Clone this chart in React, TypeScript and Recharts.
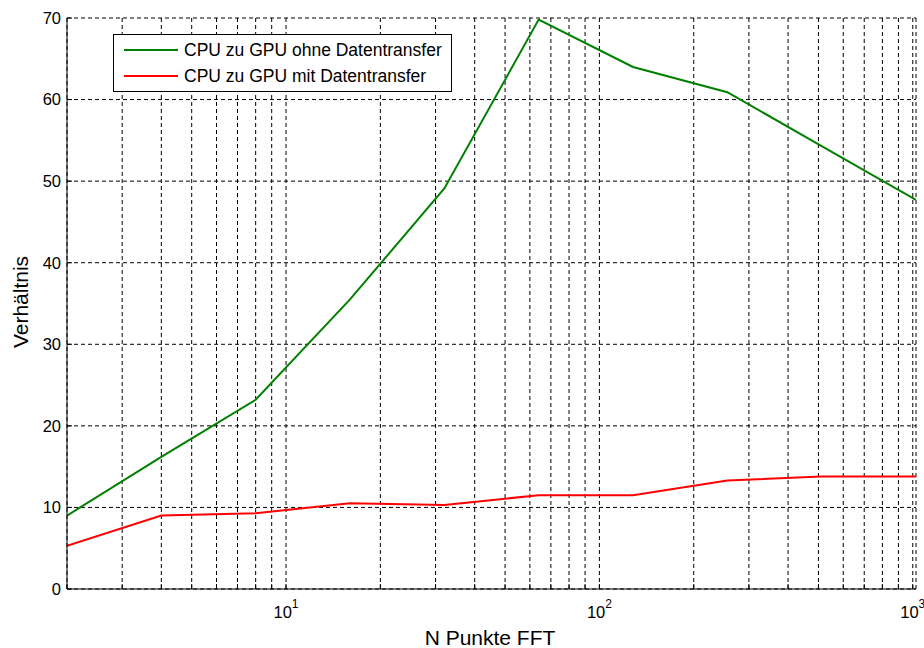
import { LineChart, Line, XAxis, YAxis, CartesianGrid, Legend, Label } from "recharts";

// FFT sizes (x, log scale) and CPU/GPU speed-up ratios
const fftSizes = [2, 4, 8, 16, 32, 64, 128, 256, 512, 1024];
const ohneTransfer = [9.0, 16.2, 23.2, 35.5, 49.1, 69.8, 64.0, 60.9, 54.3, 47.7];
const mitTransfer = [5.3, 9.0, 9.3, 10.5, 10.3, 11.5, 11.5, 13.3, 13.8, 13.8];

// log grid: minor ticks 2..9 per decade, labels only on powers of ten
const xTicks = [2, 3, 4, 5, 6, 7, 8, 9, 10, 20, 30, 40, 50, 60, 70, 80, 90, 100, 200, 300, 400, 500, 600, 700, 800, 900, 1000];
const xTickLabels: Record<number, string> = { 10: "1", 100: "2", 1000: "3" };
const yTicks = [0, 10, 20, 30, 40, 50, 60, 70];

const seriesNames = ["CPU zu GPU ohne Datentransfer", "CPU zu GPU mit Datentransfer"];

const FONT = '"Liberation Sans", Arial, sans-serif';

const data = fftSizes.map((n, i) => ({
  n,
  ohne: ohneTransfer[i],
  mit: mitTransfer[i],
}));

function PowerTick(props: any) {
  const { x, y, payload } = props;
  const exp = xTickLabels[payload.value];
  if (!exp) return <g />;
  return (
    <text x={x} y={y + 6} textAnchor="middle" fontFamily={FONT} fontSize={16.5} fill="#000">
      <tspan>10</tspan>
      <tspan dy={-10} fontSize={12}>{exp}</tspan>
    </text>
  );
}

function LegendBox(props: any) {
  // keep the plotting order (legend sorts by name otherwise)
  const items = [...(props.payload || [])].sort(
    (a: any, b: any) => seriesNames.indexOf(a.value) - seriesNames.indexOf(b.value)
  );
  return (
    <div
      style={{
        boxSizing: "border-box",
        width: 339,
        height: 58,
        border: "1px solid #000",
        background: "#fff",
        paddingTop: 2,
        paddingLeft: 10,
        fontFamily: FONT,
        fontSize: 17.5,
        color: "#000",
      }}
    >
      {items.map((item: any) => (
        <div key={item.value} style={{ display: "flex", alignItems: "center", height: 26 }}>
          <div style={{ width: 54, height: 2.5, background: item.color, marginRight: 6 }} />
          <span style={{ whiteSpace: "nowrap" }}>{item.value}</span>
        </div>
      ))}
    </div>
  );
}

const YTitle = () => (
  <text x={28} y={302} transform="rotate(-90 28 302)" textAnchor="middle" fontFamily={FONT} fontSize={21} fill="#000">
    Verhältnis
  </text>
);

const XTitle = () => (
  <text x={490} y={645} textAnchor="middle" fontFamily={FONT} fontSize={21} fill="#000">
    N Punkte FFT
  </text>
);

export default function App() {
  return (
    <div style={{ position: "absolute", left: 0, top: 0, width: 924, height: 648, background: "#fff" }}>
      <LineChart width={924} height={648} data={data} margin={{ top: 18, right: 8, left: 0, bottom: 0 }}>
        <CartesianGrid stroke="#000" strokeDasharray="4 3" strokeWidth={1} />
        <XAxis
          dataKey="n"
          type="number"
          scale="log"
          domain={[2, 1024]}
          allowDataOverflow
          ticks={xTicks}
          interval={0}
          height={59}
          axisLine={{ stroke: "#000", strokeWidth: 1 }}
          tickLine={{ stroke: "#000" }}
          tickSize={-5}
          tickMargin={28}
          tick={<PowerTick />}
        >
          <Label content={<XTitle />} />
        </XAxis>
        <YAxis
          type="number"
          domain={[0, 70]}
          ticks={yTicks}
          interval={0}
          width={67}
          axisLine={{ stroke: "#000", strokeWidth: 1 }}
          tickLine={{ stroke: "#000" }}
          tickSize={-5}
          tickMargin={11}
          tick={{ fontFamily: FONT, fontSize: 16.5, fill: "#000" }}
        >
          <Label content={<YTitle />} />
        </YAxis>
        <Legend
          layout="horizontal"
          verticalAlign="middle"
          align="center"
          wrapperStyle={{ left: 113, top: 34, width: 339, height: 58 }}
          content={<LegendBox />}
        />
        <Line
          type="linear"
          dataKey="ohne"
          name={seriesNames[0]}
          stroke="#008000"
          strokeWidth={2}
          dot={false}
          isAnimationActive={false}
        />
        <Line
          type="linear"
          dataKey="mit"
          name={seriesNames[1]}
          stroke="#ff0000"
          strokeWidth={2}
          dot={false}
          isAnimationActive={false}
        />
      </LineChart>
    </div>
  );
}
